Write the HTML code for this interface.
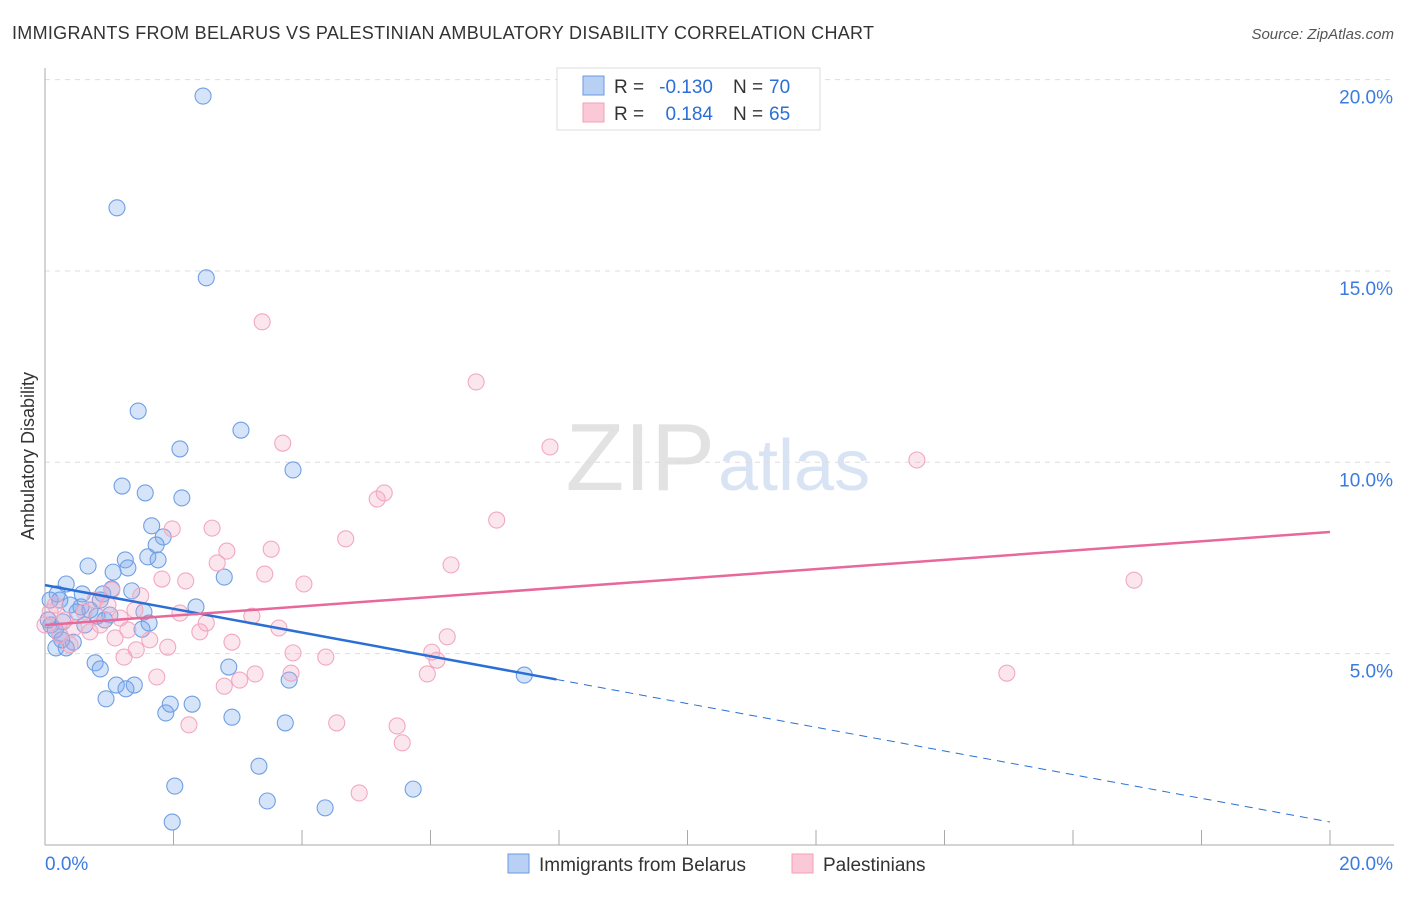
<!DOCTYPE html>
<html><head><meta charset="utf-8"><style>
body{margin:0;background:#fff;font-family:"Liberation Sans",sans-serif;}
svg text{font-family:"Liberation Sans",sans-serif;}
</style></head><body>
<svg id="chart" width="1406" height="892">
<text x="12" y="39" font-size="18" fill="#333" textLength="862">IMMIGRANTS FROM BELARUS VS PALESTINIAN AMBULATORY DISABILITY CORRELATION CHART</text>
<text x="1394" y="39" font-size="15" fill="#555" text-anchor="end" font-style="italic">Source: ZipAtlas.com</text>
<text x="715" y="490" font-size="96" fill="#e2e2e2" text-anchor="end" font-family="Liberation Serif">ZIP</text>
<text x="718" y="490" font-size="72" fill="#d8e4f4">atlas</text>
<text transform="translate(34,456) rotate(-90)" font-size="18" fill="#333" text-anchor="middle">Ambulatory Disability</text>
<g id="grid"></g><g id="axes"></g><g id="blue"></g><g id="pink"></g><g id="trend"></g>
<g>
<rect x="557" y="68" width="263" height="62" fill="#fff" stroke="#ddd"/>
<rect x="583" y="76" width="21" height="19" fill="#b8d0f4" stroke="#6a9ae0"/>
<rect x="583" y="103" width="21" height="19" fill="#fbc8d8" stroke="#f0a0b8"/>
<text x="614" y="93" font-size="19" fill="#333">R =</text>
<text x="713" y="93" font-size="19" fill="#2a6fd6" text-anchor="end">-0.130</text>
<text x="733" y="93" font-size="19" fill="#333">N =</text>
<text x="769" y="93" font-size="19" fill="#2a6fd6">70</text>
<text x="614" y="120" font-size="19" fill="#333">R =</text>
<text x="713" y="120" font-size="19" fill="#2a6fd6" text-anchor="end">0.184</text>
<text x="733" y="120" font-size="19" fill="#333">N =</text>
<text x="769" y="120" font-size="19" fill="#2a6fd6">65</text>
</g>
<g>
<rect x="508" y="854" width="21" height="19" fill="#b8d0f4" stroke="#6a9ae0"/>
<text x="539" y="871" font-size="19" fill="#333">Immigrants from Belarus</text>
<rect x="792" y="854" width="21" height="19" fill="#fbc8d8" stroke="#f0a0b8"/>
<text x="823" y="871" font-size="19" fill="#333">Palestinians</text>
</g>
</svg>
<script>
const yTicks=[5,10,15,20];
const yTickLabels=["5.0%","10.0%","15.0%","20.0%"];
const blueX=[2.46,1.12,2.51,1.45,2.10,3.05,3.86,1.20,1.56,2.13,1.66,1.84,1.73,1.60,1.25,1.76,0.67,1.29,1.06,2.79,0.33,1.04,1.35,0.58,0.90,0.19,0.56,0.70,2.35,1.54,0.81,0.93,0.28,0.09,1.62,1.51,0.23,0.44,0.17,0.33,0.78,0.86,2.86,3.80,7.46,1.11,1.39,1.26,0.95,1.95,2.29,1.88,2.91,3.74,3.33,2.02,5.73,3.46,4.36,1.98,0.08,0.39,0.16,0.05,0.62,0.26,0.50,0.86,1.01,0.23];
const blueY=[19.57,16.65,14.82,11.34,10.35,10.84,9.80,9.38,9.20,9.07,8.34,8.05,7.84,7.53,7.45,7.45,7.29,7.24,7.13,7.00,6.82,6.69,6.64,6.56,6.56,6.56,6.22,6.14,6.22,6.09,5.98,5.88,5.83,5.75,5.80,5.64,5.49,5.30,5.15,5.15,4.76,4.60,4.65,4.31,4.44,4.18,4.18,4.08,3.82,3.68,3.68,3.45,3.34,3.19,2.06,1.54,1.46,1.15,0.97,0.60,6.40,6.27,5.62,5.88,5.75,5.36,6.09,6.40,6.01,6.40];
const pinkX=[3.38,6.71,7.86,3.70,13.57,5.28,5.17,7.03,1.98,2.60,4.68,2.83,3.52,6.32,3.42,2.68,1.82,2.19,4.03,16.95,1.49,0.98,0.16,3.22,2.10,2.51,1.17,1.29,0.45,0.70,1.63,2.41,1.09,1.91,2.91,3.64,6.26,1.42,3.86,4.37,6.02,6.10,1.23,3.83,3.27,14.97,5.95,1.74,2.79,3.03,4.54,2.24,5.48,5.56,4.89,0.08,0.31,0.86,0.23,0.61,0.78,0.00,0.39,1.04,1.40];
const pinkY=[13.67,12.10,10.40,10.50,10.06,9.20,9.04,8.49,8.26,8.28,8.00,7.68,7.73,7.32,7.08,7.37,6.95,6.90,6.82,6.92,6.51,6.27,6.27,5.98,6.06,5.80,5.93,5.62,5.67,5.57,5.36,5.57,5.41,5.17,5.30,5.67,5.44,5.10,5.02,4.91,5.04,4.83,4.91,4.49,4.47,4.49,4.47,4.39,4.15,4.31,3.19,3.14,3.11,2.67,1.36,6.09,5.88,5.75,5.49,6.09,6.40,5.75,5.23,6.66,6.14];
const blueTrend=[6.79,-0.3095];
const pinkTrend=[5.75,0.1215];
const blueSolidEnd=7.96;

const NS="http://www.w3.org/2000/svg";
const X=v=>45+v*64.25, Y=v=>845-v*38.27;
function mk(parent,tag,attrs){const e=document.createElementNS(NS,tag);for(const k in attrs)e.setAttribute(k,attrs[k]);document.getElementById(parent).appendChild(e);return e;}
yTicks.forEach((t,i)=>{
 const l=mk('grid','line',{x1:45,x2:1394,y1:Y(t),y2:Y(t),stroke:'#ddd','stroke-dasharray':'5,5'});
 
 
 const tx=mk('grid','text',{x:1393,y:Y(t)+24,'font-size':19,fill:'#3b7be0','text-anchor':'end'});
 tx.textContent=yTickLabels[i];
 
 
});
let a=mk('axes','line',{x1:45,x2:45,y1:68,y2:845,stroke:'#aaa'});


a=mk('axes','line',{x1:45,x2:1394,y1:845,y2:845,stroke:'#aaa'});


for(let i=0;i<=10;i++){
 const t=mk('axes','line',{x1:X(i*2),x2:X(i*2),y1:830,y2:845,stroke:'#aaa'});
 
 
}
a=mk('axes','text',{x:45,y:870,'font-size':19,fill:'#3b7be0'});a.textContent='0.0%';


a=mk('axes','text',{x:1393,y:870,'font-size':19,fill:'#3b7be0','text-anchor':'end'});a.textContent='20.0%';


blueX.forEach((v,i)=>{
 const c=mk('blue','circle',{cx:X(v),cy:Y(blueY[i]),r:8,fill:'rgba(120,165,235,0.3)',stroke:'#6f9fe4','stroke-width':1.1});
 
 
});
pinkX.forEach((v,i)=>{
 const c=mk('pink','circle',{cx:X(v),cy:Y(pinkY[i]),r:8,fill:'rgba(245,165,195,0.28)',stroke:'#f2a8c0','stroke-width':1.1});
 
 
});
const bf=x=>blueTrend[0]+blueTrend[1]*x, pf=x=>pinkTrend[0]+pinkTrend[1]*x;
let tl=mk('trend','line',{x1:X(0),y1:Y(bf(0)),x2:X(blueSolidEnd),y2:Y(bf(blueSolidEnd)),stroke:'#2a6fd6','stroke-width':2.5});


tl=mk('trend','line',{x1:X(blueSolidEnd),y1:Y(bf(blueSolidEnd)),x2:X(20),y2:Y(bf(20)),stroke:'#2a6fd6','stroke-width':1,'stroke-dasharray':'8,6'});


tl=mk('trend','line',{x1:X(0),y1:Y(pf(0)),x2:X(20),y2:Y(pf(20)),stroke:'#e8689a','stroke-width':2.5});


</script>
</body></html>
